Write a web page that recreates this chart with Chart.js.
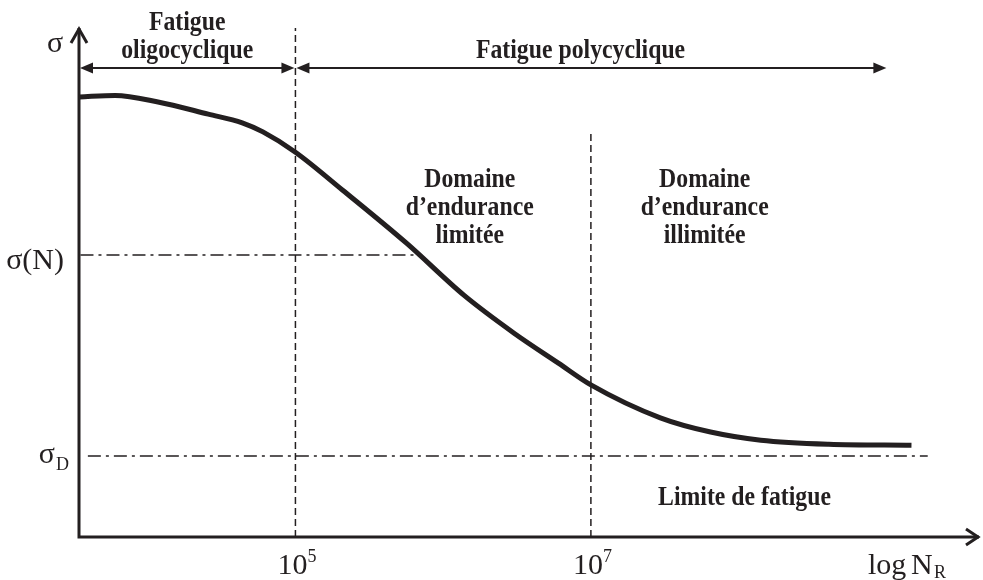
<!DOCTYPE html>
<html>
<head>
<meta charset="utf-8">
<title>Courbe de Wöhler</title>
<script src="https://cdn.jsdelivr.net/npm/chart.js@4"></script>
<style>
  body { margin: 0; background: #fff; }
  canvas { display: block; }
</style>
</head>
<body>
<canvas id="wohler" width="983" height="580"></canvas>
<script>
// courbe de Wöhler : log N en abscisse, sigma (unités arbitraires) en ordonnée
const curveLogN = [3.54, 3.78, 4.07, 4.41, 4.64, 4.78, 5.0, 5.32, 5.75, 6.14, 6.48, 6.78, 7.0, 7.47, 7.81, 8.15, 8.61, 9.17];
const curveSigma = [86.8, 87.1, 85.8, 83.4, 81.7, 79.9, 75.9, 68.4, 58.0, 47.7, 40.2, 34.3, 30.0, 23.5, 20.7, 19.1, 18.3, 18.1];

// niveaux de contrainte
const sigmaN = 55.6;      // sigma(N)
const sigmaNEnd = 5.81;   // ou la ligne rejoint la courbe
const sigmaD = 16.0;      // limite d'endurance
const sigmaDEnd = 9.28;

// limites des domaines (log N)
const oligoEnd = 5;
const polyEnd = 9.0;
const enduranceStart = 7;

// graduations de l'axe des x (puissances de 10)
const xTicks = [5, 7];
const xTickExp = ['5', '7'];

const ink = '#231f20';
const xMin = 3.535, xMax = 9.6;
const boldFont = 'bold 27px "Liberation Serif"';

function pts(xs, ys) {
    return xs.map((v, i) => ({x: v, y: ys[i]}));
}

// texte gras un peu resserre, comme sur la figure
function narrowText(ctx, text, x, y) {
    ctx.save();
    ctx.translate(x, y);
    ctx.scale(0.88, 1);
    ctx.font = boldFont;
    ctx.textAlign = 'center';
    ctx.fillText(text, 0, 0);
    ctx.restore();
}

function filledHead(ctx, x, y, dir) {
    ctx.beginPath();
    ctx.moveTo(x, y);
    ctx.lineTo(x - dir * 13, y - 5.5);
    ctx.lineTo(x - dir * 13, y + 5.5);
    ctx.closePath();
    ctx.fill();
}

function doubleArrow(ctx, x1, x2, y) {
    ctx.lineWidth = 2;
    ctx.beginPath();
    ctx.moveTo(x1 + 6, y);
    ctx.lineTo(x2 - 6, y);
    ctx.stroke();
    filledHead(ctx, x1, y, -1);
    filledHead(ctx, x2, y, 1);
}

// axes, fleches et textes
const decor = {
    id: 'decor',
    beforeDatasetsDraw(chart) {
        const {ctx, chartArea: a} = chart;
        ctx.save();
        ctx.strokeStyle = ink;
        ctx.lineWidth = 3;
        ctx.beginPath();
        ctx.moveTo(a.left, a.top - 2);
        ctx.lineTo(a.left, a.bottom);
        ctx.lineTo(a.right + 4, a.bottom);
        ctx.stroke();
        ctx.beginPath();
        ctx.moveTo(a.left - 8, a.top + 13);
        ctx.lineTo(a.left, a.top - 1);
        ctx.lineTo(a.left + 8, a.top + 13);
        ctx.moveTo(a.right - 9, a.bottom - 8);
        ctx.lineTo(a.right + 3, a.bottom);
        ctx.lineTo(a.right - 9, a.bottom + 8);
        ctx.stroke();
        ctx.restore();
    },
    afterDraw(chart) {
        const {ctx, chartArea: a} = chart;
        const px = v => chart.scales.x.getPixelForValue(v);
        const py = v => chart.scales.y.getPixelForValue(v);
        ctx.save();
        ctx.strokeStyle = ink;
        ctx.fillStyle = ink;
        ctx.textBaseline = 'alphabetic';

        // fleches des domaines de fatigue
        const ay = py(92.5);
        doubleArrow(ctx, a.left + 1, px(oligoEnd) - 1, ay);
        doubleArrow(ctx, px(oligoEnd) + 1, px(polyEnd), ay);

        const oc = (a.left + px(oligoEnd)) / 2;
        narrowText(ctx, 'Fatigue', oc, ay - 38);
        narrowText(ctx, 'oligocyclique', oc, ay - 10);
        narrowText(ctx, 'Fatigue polycyclique', px(6.93), ay - 10);

        const blocks = [
            [6.18, ['Domaine', 'd\u2019endurance', 'limitée']],
            [7.77, ['Domaine', 'd\u2019endurance', 'illimitée']]
        ];
        blocks.forEach(([xv, lines]) => {
            lines.forEach((t, i) => narrowText(ctx, t, px(xv), py(69.0) + i * 28));
        });
        narrowText(ctx, 'Limite de fatigue', px(8.04), py(6.3));

        // libelles des axes
        ctx.textAlign = 'center';
        ctx.font = '30px "Liberation Serif"';
        ctx.fillText('σ', a.left - 24, a.top + 22);
        ctx.textAlign = 'right';
        ctx.fillText('σ(N)', a.left - 15, py(sigmaN) + 14);
        ctx.fillText('σ', a.left - 24, py(sigmaD) + 7);
        ctx.textAlign = 'left';
        ctx.font = '18px "Liberation Serif"';
        ctx.fillText('D', a.left - 23, py(sigmaD) + 14);

        const base = a.bottom + 37;
        xTicks.forEach((t, i) => {
            ctx.font = '30px "Liberation Serif"';
            ctx.textAlign = 'right';
            ctx.fillText('10', px(t) + 12, base);
            ctx.textAlign = 'left';
            ctx.font = '18px "Liberation Serif"';
            ctx.fillText(xTickExp[i], px(t) + 12, base - 12);
        });
        ctx.font = '30px "Liberation Serif"';
        ctx.fillText('log', 868, base);
        ctx.fillText('N', 911, base);
        ctx.font = '18px "Liberation Serif"';
        ctx.fillText('R', 934, base + 4);
        ctx.restore();
    }
};

const ctx = document.getElementById('wohler').getContext('2d');
const chart = new Chart(ctx, {
    type: 'line',
    data: {
        datasets: [
            {
                // courbe S-N
                data: pts(curveLogN, curveSigma),
                borderColor: ink,
                borderWidth: 5,
                pointRadius: 0,
                cubicInterpolationMode: 'monotone',
                clip: false
            },
            {
                data: [{x: oligoEnd, y: 0}, {x: oligoEnd, y: 100.4}],
                borderColor: ink,
                borderWidth: 1.5,
                borderDash: [7, 4],
                pointRadius: 0,
                clip: false
            },
            {
                data: [{x: enduranceStart, y: 0}, {x: enduranceStart, y: 79.7}],
                borderColor: ink,
                borderWidth: 1.5,
                borderDash: [7, 4],
                pointRadius: 0,
                clip: false
            },
            {
                data: [{x: xMin + 0.01, y: sigmaN}, {x: sigmaNEnd, y: sigmaN}],
                borderColor: ink,
                borderWidth: 1.5,
                borderDash: [13, 5, 3, 5],
                pointRadius: 0,
                clip: false
            },
            {
                data: [{x: xMin + 0.06, y: sigmaD}, {x: sigmaDEnd, y: sigmaD}],
                borderColor: ink,
                borderWidth: 1.5,
                borderDash: [13, 5, 3, 5],
                pointRadius: 0,
                clip: false
            }
        ]
    },
    options: {
        responsive: false,
        animation: false,
        devicePixelRatio: 1,
        layout: {padding: {left: 79, right: 8, top: 30, bottom: 43}},
        plugins: {legend: {display: false}, tooltip: {enabled: false}},
        scales: {
            x: {type: 'linear', min: xMin, max: xMax, display: false},
            y: {min: 0, max: 100, display: false}
        }
    },
    plugins: [decor]
});
</script>
</body>
</html>
